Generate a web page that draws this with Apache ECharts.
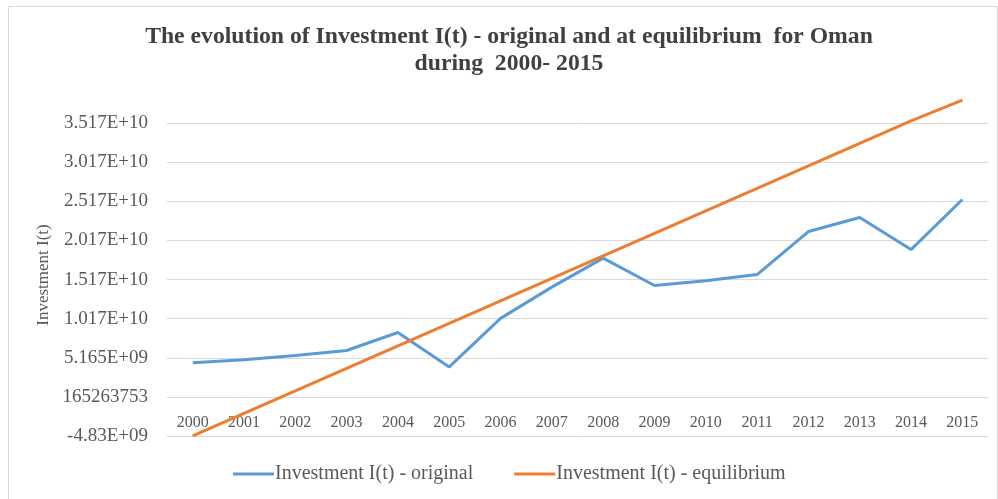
<!DOCTYPE html>
<html>
<head>
<meta charset="utf-8">
<script src="https://cdn.jsdelivr.net/npm/echarts@6/dist/echarts.min.js"></script>
<style>html,body{margin:0;padding:0;background:#fff;}#chart{width:998px;height:499px;}</style>
</head>
<body>
<div id="chart"></div>
<script>
const years = ['2000','2001','2002','2003','2004','2005','2006','2007','2008','2009','2010','2011','2012','2013','2014','2015'];
const original = [4.52e9, 4.9e9, 5.45e9, 6.1e9, 8.4e9, 4.0e9, 1.02e10, 1.42e10, 1.79e10, 1.44e10, 1.5e10, 1.58e10, 2.13e10, 2.31e10, 1.9e10, 2.54e10];
const equilibrium = [-4.83e9, -1.95e9, 0.92e9, 3.8e9, 6.68e9, 9.55e9, 1.243e10, 1.531e10, 1.818e10, 2.106e10, 2.394e10, 2.682e10, 2.969e10, 3.257e10, 3.545e10, 3.81e10];
const yTickLabels = ['-4.83E+09','165263753','5.165E+09','1.017E+10','1.517E+10','2.017E+10','2.517E+10','3.017E+10','3.517E+10',''];
const yMin = -4834736247;
const yInterval = 5000000000;
const yMax = 40165263753;

const chart = echarts.init(document.getElementById('chart'));
const serif = 'Liberation Serif';
const gridColors = [];
for (let i = 0; i < 9; i++) gridColors.push('#d9d9d9');
gridColors.push('rgba(0,0,0,0)');

chart.setOption({
  backgroundColor: '#fff',
  animation: false,
  graphic: [{
    type: 'rect', left: 6, top: 4, shape: {width: 989, height: 494},
    style: {fill: 'none', stroke: '#d9d9d9', lineWidth: 1}, silent: true
  }],
  title: {
    text: 'The evolution of Investment I(t) - original and at equilibrium  for Oman\nduring  2000- 2015',
    left: 504, textAlign: 'center', top: 18,
    textStyle: {fontFamily: serif, fontWeight: 'bold', fontSize: 23.7, color: '#404040', lineHeight: 27}
  },
  legend: {
    bottom: 10, left: 228, itemGap: 41, itemWidth: 41, itemHeight: 3,
    icon: 'rect',
    textStyle: {fontFamily: serif, fontSize: 20, color: '#595959', padding: [0,0,0,-4]},
    data: ['Investment I(t) - original', 'Investment I(t) - equilibrium']
  },
  grid: {left: 167, right: 10, top: 84, bottom: 63, containLabel: false},
  xAxis: {
    type: 'category', data: years, boundaryGap: true,
    axisLine: {show: false, onZero: false},
    axisTick: {show: false},
    axisLabel: {fontFamily: serif, fontSize: 16, color: '#595959', margin: -21}
  },
  yAxis: {
    type: 'value', min: yMin, max: yMax, interval: yInterval,
    name: 'Investment I(t)', nameLocation: 'middle', nameRotate: 90, nameGap: 114,
    nameTextStyle: {fontFamily: serif, fontSize: 17, color: '#595959', padding: [0, 30, 0, 0]},
    axisLine: {show: false}, axisTick: {show: false},
    axisLabel: {
      fontFamily: serif, fontSize: 19, color: '#595959', margin: 19,
      formatter: function (v) {
        const i = Math.round((v - yMin) / yInterval);
        return yTickLabels[i] !== undefined ? yTickLabels[i] : '';
      }
    },
    splitLine: {show: true, lineStyle: {color: gridColors, width: 1}}
  },
  series: [
    {name: 'Investment I(t) - original', type: 'line', data: original, showSymbol: false, symbol: 'none',
     lineStyle: {color: '#5B9BD5', width: 3}, itemStyle: {color: '#5B9BD5'}},
    {name: 'Investment I(t) - equilibrium', type: 'line', data: equilibrium, showSymbol: false, symbol: 'none',
     lineStyle: {color: '#ED7D31', width: 3}, itemStyle: {color: '#ED7D31'}}
  ]
});
</script>
</body>
</html>
